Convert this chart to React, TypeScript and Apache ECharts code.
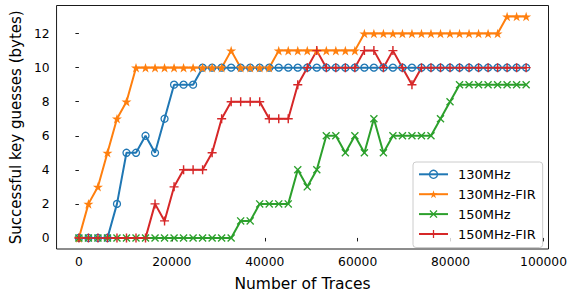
import React, { useEffect, useRef } from "react";
import * as echarts from "echarts";

const traces = [
  0, 2048, 4096, 6144, 8192, 10240, 12288, 14336, 16384, 18432, 20480, 22528,
  24576, 26624, 28672, 30720, 32768, 34816, 36864, 38912, 40960, 43008, 45056,
  47104, 49152, 51200, 53248, 55296, 57344, 59392, 61440, 63488, 65536, 67584,
  69632, 71680, 73728, 75776, 77824, 79872, 81920, 83968, 86016, 88064, 90112,
  92160, 94208, 96256,
];

const mhz130 = [
  0, 0, 0, 0, 2, 5, 5, 6, 5, 7, 9, 9, 9, 10, 10, 10, 10, 10, 10, 10, 10, 10,
  10, 10, 10, 10, 10, 10, 10, 10, 10, 10, 10, 10, 10, 10, 10, 10, 10, 10, 10,
  10, 10, 10, 10, 10, 10, 10,
];

const mhz130Fir = [
  0, 2, 3, 5, 7, 8, 10, 10, 10, 10, 10, 10, 10, 10, 10, 10, 11, 10, 10, 10, 10,
  11, 11, 11, 11, 11, 11, 11, 11, 11, 12, 12, 12, 12, 12, 12, 12, 12, 12, 12,
  12, 12, 12, 12, 12, 13, 13, 13,
];

const mhz150 = [
  0, 0, 0, 0, 0, 0, 0, 0, 0, 0, 0, 0, 0, 0, 0, 0, 0, 1, 1, 2, 2, 2, 2, 4, 3, 4,
  6, 6, 5, 6, 5, 7, 5, 6, 6, 6, 6, 6, 7, 8, 9, 9, 9, 9, 9, 9, 9, 9,
];

const mhz150Fir = [
  0, 0, 0, 0, 0, 0, 0, 0, 2, 1, 3, 4, 4, 4, 5, 7, 8, 8, 8, 8, 7, 7, 7, 9, 10,
  11, 10, 10, 10, 10, 11, 11, 10, 11, 10, 9, 10, 10, 10, 10, 10, 10, 10, 10, 10,
  10, 10, 10,
];

const seriesNames = ["130MHz", "130MHz-FIR", "150MHz", "150MHz-FIR"];
const xTicks = [0, 20000, 40000, 60000, 80000, 100000];
const yTicks = [0, 2, 4, 6, 8, 10, 12];

const COLORS = ["#1f77b4", "#ff7f0e", "#2ca02c", "#d62728"];
const FONT = "DejaVu Sans";

const STAR =
  "path://M50 0 L61.23 34.55 L97.55 34.55 L68.16 55.9 L79.39 90.45 L50 69.1 L20.61 90.45 L31.84 55.9 L2.45 34.55 L38.77 34.55 Z";
const XMARK =
  "path://M0 12 L12 0 L50 38 L88 0 L100 12 L62 50 L100 88 L88 100 L50 62 L12 100 L0 88 L38 50 Z";
const PLUS =
  "path://M42 0 L58 0 L58 42 L100 42 L100 58 L58 58 L58 100 L42 100 L42 58 L0 58 L0 42 L42 42 Z";

function pairs(ys: number[]) {
  return traces.map((x, i) => [x, ys[i]]);
}

export default function App() {
  const ref = useRef<HTMLDivElement>(null);

  useEffect(() => {
    if (!ref.current) return;
    const chart = echarts.init(ref.current, null, { renderer: "svg" });

    const xMax = traces[traces.length - 1];
    const xPad = xMax * 0.05;
    const yPad = 13 * 0.05;

    const styles = [
      {
        symbol: "circle",
        symbolSize: 7,
        itemStyle: { color: "rgba(0,0,0,0)", borderColor: COLORS[0], borderWidth: 1.3 },
      },
      { symbol: STAR, symbolSize: 10, itemStyle: { color: COLORS[1] } },
      { symbol: XMARK, symbolSize: 8, itemStyle: { color: COLORS[2] } },
      { symbol: PLUS, symbolSize: 9, itemStyle: { color: COLORS[3] } },
    ];
    const datasets = [mhz130, mhz130Fir, mhz150, mhz150Fir];

    const series = datasets.map((d, i) => ({
      name: seriesNames[i],
      type: "line",
      data: pairs(d),
      symbol: styles[i].symbol,
      symbolSize: styles[i].symbolSize,
      symbolKeepAspect: true,
      showSymbol: true,
      itemStyle: styles[i].itemStyle,
      lineStyle: { color: COLORS[i], width: 2 },
      emphasis: { disabled: true },
    }));

    const option = {
      animation: false,
      backgroundColor: "#ffffff",
      textStyle: { fontFamily: FONT },
      grid: {
        left: 55.5,
        top: 5.5,
        right: 21.5,
        bottom: 47,
        show: true,
        borderColor: "#000",
        borderWidth: 0.9,
        backgroundColor: "transparent",
      },
      legend: {
        left: 413,
        top: 162,
        orient: "vertical",
        itemWidth: 29,
        itemHeight: 10,
        itemGap: 6.9,
        padding: [5.8, 7, 7, 5],
        borderColor: "#cccccc",
        borderWidth: 1,
        borderRadius: 3,
        backgroundColor: "rgba(255,255,255,0.8)",
        textStyle: { fontSize: 13, fontFamily: FONT, color: "#000", padding: [0, 0, 0, 5] },
        data: seriesNames.map((n, i) => ({
          name: n,
          itemStyle: styles[i].itemStyle,
          lineStyle: { color: COLORS[i], width: 2 },
        })),
      },
      xAxis: {
        type: "value",
        min: -xPad,
        max: xMax + xPad,
        name: "Number of Traces",
        nameLocation: "middle",
        nameGap: 27,
        nameTextStyle: { fontSize: 15.5, fontFamily: FONT, color: "#000" },
        axisLine: { show: false },
        splitLine: { show: false },
        axisTick: {
          show: true,
          length: 3.5,
          customValues: xTicks,
          lineStyle: { color: "#000", width: 0.9 },
        },
        axisLabel: {
          customValues: xTicks,
          margin: 7,
          fontSize: 12.3,
          fontFamily: FONT,
          color: "#000",
          formatter: (v: number) => String(v),
        },
      },
      yAxis: {
        type: "value",
        min: -yPad,
        max: 13 + yPad,
        name: "Successful key guesses (bytes)",
        nameLocation: "middle",
        nameGap: 30,
        nameTextStyle: { fontSize: 15, fontFamily: FONT, color: "#000" },
        axisLine: { show: false },
        splitLine: { show: false },
        axisTick: {
          show: true,
          length: 3.5,
          customValues: yTicks,
          lineStyle: { color: "#000", width: 0.9 },
        },
        axisLabel: {
          customValues: yTicks,
          margin: 7,
          fontSize: 12.3,
          fontFamily: FONT,
          color: "#000",
          formatter: (v: number) => String(v),
        },
      },
      series,
    };

    chart.setOption(option as any);
    return () => chart.dispose();
  }, []);

  return (
    <div
      ref={ref}
      style={{ position: "fixed", left: 0, top: 0, width: 570, height: 297 }}
    />
  );
}
